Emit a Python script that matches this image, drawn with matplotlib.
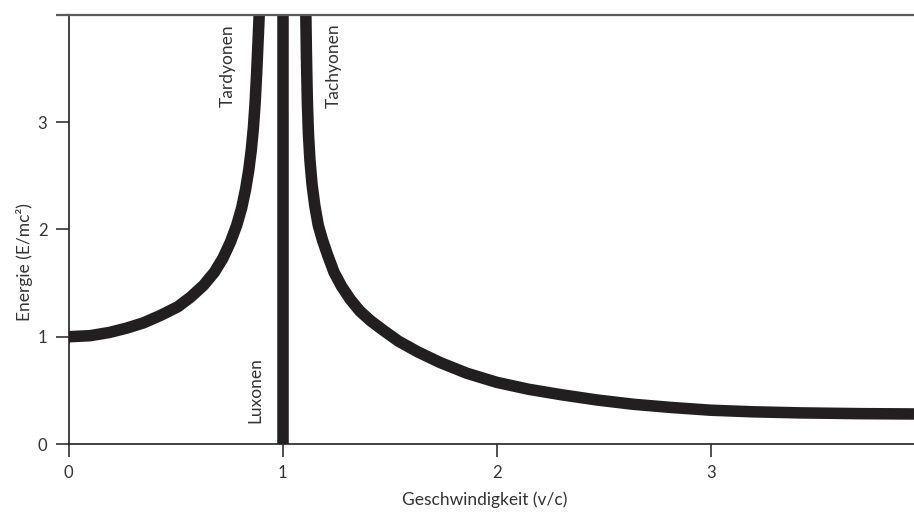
import matplotlib
matplotlib.use("Agg")
import matplotlib.pyplot as plt


# values
tardyon_v = [0.0, 0.10, 0.19, 0.27, 0.35, 0.43, 0.51, 0.57, 0.63, 0.68, 0.72,
             0.755, 0.785, 0.808, 0.826, 0.841, 0.853, 0.863, 0.871, 0.878,
             0.884, 0.89]
tardyon_e = [1.00, 1.01, 1.04, 1.08, 1.13, 1.20, 1.28, 1.37, 1.48, 1.60, 1.73,
             1.88, 2.04, 2.20, 2.37, 2.55, 2.74, 2.95, 3.18, 3.45,
             3.72, 4.00]

tachyon_v = [1.108, 1.111, 1.115, 1.120, 1.127, 1.137, 1.150, 1.166, 1.186,
             1.210, 1.240, 1.275, 1.315, 1.36, 1.41, 1.47, 1.54, 1.63, 1.735,
             1.86, 2.0, 2.15, 2.3, 2.47, 2.64, 2.82, 3.0, 3.2, 3.42, 3.7, 3.95]
tachyon_e = [4.00, 3.60, 3.20, 2.90, 2.65, 2.42, 2.22, 2.04, 1.90,
             1.76, 1.60, 1.47, 1.35, 1.24, 1.15, 1.06, 0.96, 0.86, 0.76,
             0.66, 0.575, 0.51, 0.46, 0.41, 0.37, 0.34, 0.315, 0.30, 0.29,
             0.283, 0.28]

luxon_v = [1.0, 1.0]
luxon_e = [0.0, 4.0]

x_ticks = [0, 1, 2, 3]
y_ticks = [0, 1, 2, 3]

LINE_COLOR = "#231f20"
plt.rcParams["font.family"] = ["Lato", "DejaVu Sans"]

fig = plt.figure(figsize=(9.14, 5.13), dpi=100)
ax = fig.add_axes([0.0752, 0.1345, 0.9248, 0.8363])

ax.plot(tardyon_v, tardyon_e, color=LINE_COLOR, lw=8.3, solid_capstyle="butt",
        solid_joinstyle="round")
ax.plot(tachyon_v, tachyon_e, color=LINE_COLOR, lw=8.3, solid_capstyle="butt",
        solid_joinstyle="round")
ax.plot(luxon_v, luxon_e, color=LINE_COLOR, lw=8.3, solid_capstyle="butt")

ax.set_xlim(0, 3.95)
ax.set_ylim(0, 4.0)

ax.spines["right"].set_visible(False)
for side in ["left", "bottom"]:
    ax.spines[side].set_linewidth(1.2)
    ax.spines[side].set_color("#222222")
ax.spines["top"].set_linewidth(1.6)
ax.spines["top"].set_color("#5a5a5a")
# top rule runs a little past the y axis, like the tick marks
ax.plot([-0.0154, 0], [1, 1], transform=ax.transAxes, color="#5a5a5a",
        lw=1.6, clip_on=False, solid_capstyle="butt")

ax.set_xticks(x_ticks)
ax.set_yticks(y_ticks)
ax.set_xticklabels([str(t) for t in x_ticks])
ax.set_yticklabels([str(t) for t in y_ticks])
ax.tick_params(direction="out", length=9.4, width=1.1, color="#222222",
               labelsize=12, labelcolor="#333333")
ax.tick_params(axis="x", pad=6)
ax.tick_params(axis="y", pad=6)

ax.set_xlabel("Geschwindigkeit (v/c)", fontsize=12.5, color="#333333")
ax.xaxis.set_label_coords(0.4925, -0.11)
ax.set_ylabel("Energie (E/mc²)", fontsize=12.5, color="#333333")
ax.yaxis.set_label_coords(-0.042, 0.425)

ax.text(0.745, 3.91, "Tardyonen", rotation=90, ha="center", va="top",
        fontsize=12.5, color="#333333")
ax.text(1.24, 3.92, "Tachyonen", rotation=90, ha="center", va="top",
        fontsize=12.5, color="#333333")
ax.text(0.87, 0.81, "Luxonen", rotation=90, ha="center", va="top",
        fontsize=12.5, color="#333333")

fig.savefig("out.png", dpi=100)
